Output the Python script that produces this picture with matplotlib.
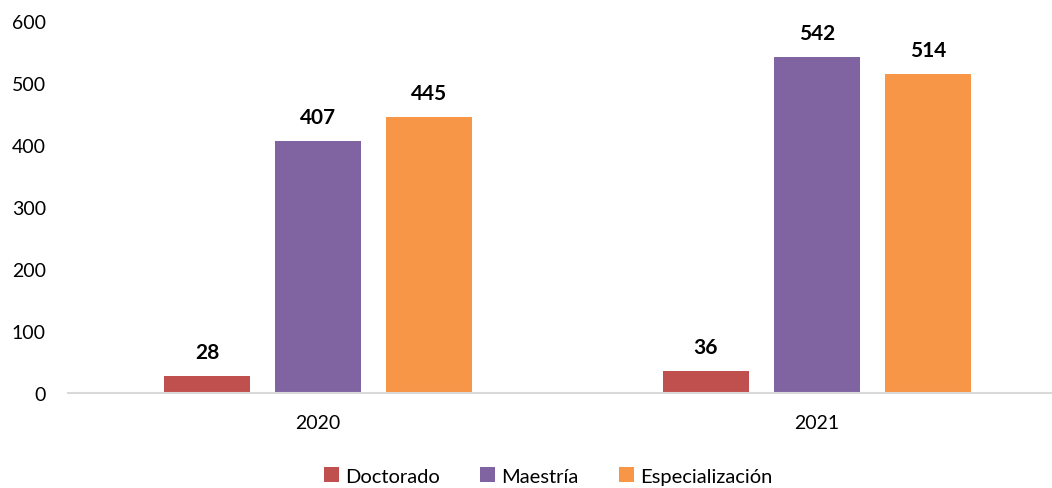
import numpy as np
import matplotlib.pyplot as plt

plt.rcParams['font.family'] = ['Lato', 'DejaVu Sans']

years = ['2020', '2021']
series = ['Doctorado', 'Maestría', 'Especialización']
doctorado = [28, 36]
maestria = [407, 542]
especializacion = [445, 514]
colors = ['#C0504D', '#8064A2', '#F79646']

fig = plt.figure(figsize=(10.52, 4.89), dpi=100)
ax = fig.add_axes([68 / 1052, 95 / 489, (1052 - 68) / 1052, 372 / 489])

x = np.arange(len(years))
step = 0.2225
width = 0.174
for i, (name, vals) in enumerate(zip(series, [doctorado, maestria, especializacion])):
    bars = ax.bar(x + (i - 1) * step, vals, width, color=colors[i], label=name)
    for b, v in zip(bars, vals):
        ax.annotate(str(v), (b.get_x() + b.get_width() / 2, v), xytext=(0, 10),
                    textcoords='offset points', ha='center', va='bottom',
                    fontsize=15, fontweight='bold')

ax.set_ylim(0, 600)
ax.set_yticks(range(0, 601, 100))
ax.set_xlim((68 - 318) / 499, (1052 - 318) / 499)
ax.set_xticks(x)
ax.set_xticklabels(years)
ax.tick_params(axis='both', length=0, labelsize=14)
ax.tick_params(axis='y', pad=16)
ax.tick_params(axis='x', pad=15)
for s in ['top', 'right', 'left']:
    ax.spines[s].set_visible(False)
ax.spines['bottom'].set_color('#D9D9D9')
ax.spines['bottom'].set_linewidth(1.5)

fig.legend(loc='center', bbox_to_anchor=(548 / 1052, 1 - 477 / 489), ncol=3,
           frameon=False, fontsize=14.5, handlelength=0.75, handleheight=0.75,
           handletextpad=0.3, columnspacing=2.0)

fig.savefig('out.png', dpi=100)
